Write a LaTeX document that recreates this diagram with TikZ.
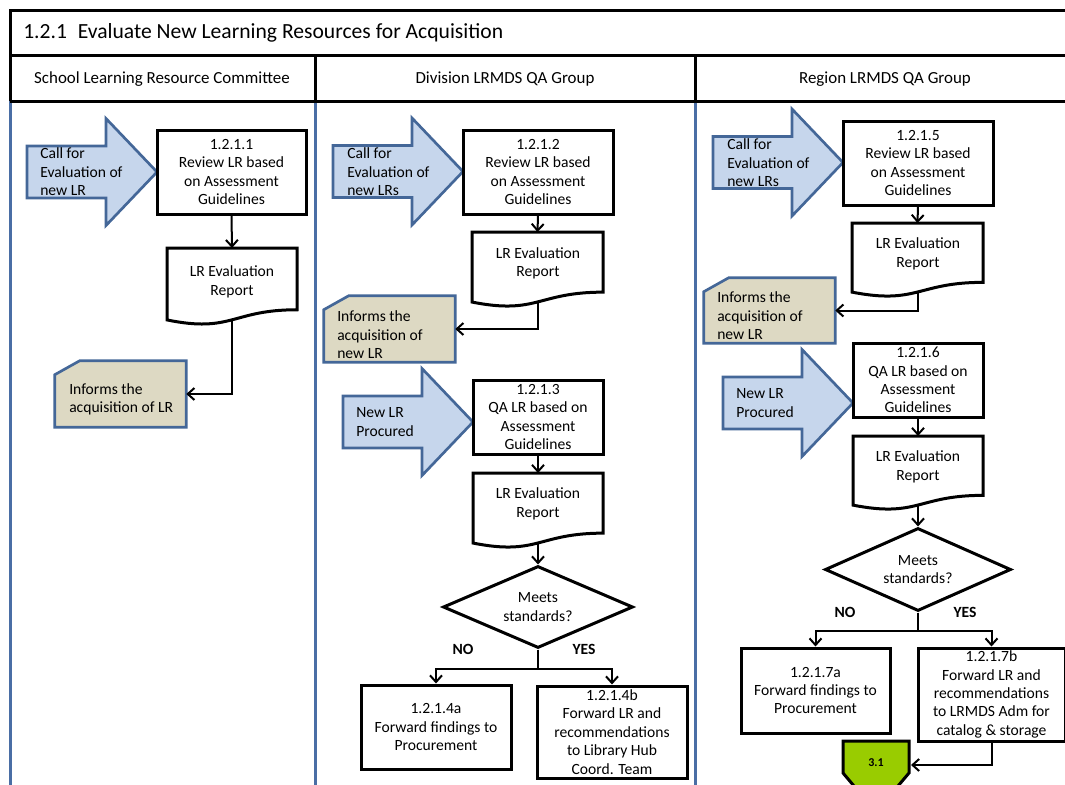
\documentclass[tikz,border=0pt]{standalone}
\usepackage{fontspec}
\setmainfont{Carlito}
\usetikzlibrary{arrows.meta,shapes.geometric}
\definecolor{lanecol}{RGB}{74,110,165}
\definecolor{arrfill}{RGB}{198,214,236}
\definecolor{arrdraw}{RGB}{68,103,152}
\definecolor{notefill}{RGB}{221,217,195}
\definecolor{opgreen}{RGB}{153,204,0}
\newcommand{\nf}{\fontsize{11.7}{13.8}\selectfont}
\newcommand{\hf}{\fontsize{12.7}{15}\selectfont}
\newcommand{\drawdoc}[5]{%
  \draw[docst] (#2,#3) -- (#2+#4,#3) -- (#2+#4,#3+0.802*#5)
    .. controls (#2+0.5*#4,#3+0.802*#5) and (#2+0.5*#4,#3+1.107*#5) .. (#2,#3+0.934*#5) -- cycle;
  \coordinate (#1t) at (#2+0.5*#4,#3);
  \coordinate (#1b) at (#2+0.5*#4,#3+0.933*#5);
}
\newcommand{\blockarr}[2]{%
  \draw[barrowst] (#1-130,#2-26) -- (#1-51,#2-26) -- (#1-51,#2-53.5) -- (#1,#2)
    -- (#1-51,#2+53.5) -- (#1-51,#2+26) -- (#1-130,#2+26) -- cycle;
}
\newcommand{\notebox}[1]{%
  \draw[notest] ([xshift=25*0.75pt]#1.north west) -- (#1.north east) -- (#1.south east)
    -- (#1.south west) -- ([yshift=-14*0.75pt]#1.north west) -- cycle;
}
\tikzset{
  framest/.style={line width=2.25pt, black, line join=miter},
  lanest/.style={line width=2.25pt, lanecol},
  boxst/.style={draw, line width=2.25pt, rectangle, align=center, inner sep=0pt, font=\nf},
  txt/.style={align=center, inner sep=0pt, font=\nf},
  htxt/.style={align=center, inner sep=0pt, font=\hf},
  ltxt/.style={align=left, inner sep=0pt, font=\nf, anchor=west},
  docst/.style={draw, line width=2.25pt, fill=white},
  barrowst/.style={draw=arrdraw, fill=arrfill, line width=2pt, line join=miter},
  notenode/.style={rectangle, inner sep=0pt, draw=none},
  notest/.style={draw=arrdraw, fill=notefill, line width=2pt},
  diast/.style={draw, diamond, line width=2.25pt, inner sep=0pt, aspect=2.3, align=center, font=\nf},
  conn/.style={line width=1.5pt, -{Straight Barb[length=5pt,width=9pt]}},
  yn/.style={font=\nf\bfseries, inner sep=0pt},
}
\begin{document}
\begin{tikzpicture}[x=0.75pt,y=-0.75pt]
\useasboundingbox (0,0) rectangle (1065,785);
\clip (0,0) rectangle (1065,785);
\fill[white] (0,0) rectangle (1065,785);
% lanes
\draw[lanest] (10,101) -- (10,800);
\draw[lanest] (315,101) -- (315,800);
\draw[lanest] (695,101) -- (695,800);
% frame
\draw[framest] (1080,10) -- (10,10) -- (10,101);
\draw[framest] (10,55) -- (1080,55);
\draw[framest] (10,101) -- (1080,101);
\draw[framest] (315,55) -- (315,101);
\draw[framest] (695,55) -- (695,101);
\node[anchor=west, inner sep=0pt, font=\fontsize{16.2}{19}\selectfont] (title) at (23,33) {1.2.1\enspace Evaluate New Learning Resources for Acquisition};
\node[htxt] (h1) at (162,79) {School Learning Resource Committee};
\node[htxt] (h2) at (505,79) {Division LRMDS QA Group};
\node[htxt] (h3) at (885,79) {Region LRMDS QA Group};

% ===== Lane 1 =====
\blockarr{157}{172}
\node[ltxt] (a1) at (40,172) {Call for\\Evaluation of\\new LR};
\node[boxst, minimum width=149*0.75pt, minimum height=84*0.75pt] (b1) at (231.5,172) {1.2.1.1\\Review LR based\\on Assessment\\Guidelines};
\drawdoc{d1}{167}{248}{130}{77}
\node[txt] (d1x) at (232,282) {LR Evaluation\\Report};
\node[notenode, minimum width=131*0.75pt, minimum height=66*0.75pt] (n1) at (120.5,394) {};
\notebox{n1}
\node[ltxt] (n1x) at (69,399.5) {Informs the\\acquisition of LR};
\draw[conn] (b1.south) -- (d1t);
\draw[conn] (d1b) |- (n1.east);

% ===== Lane 2 =====
\blockarr{463}{171.5}
\node[ltxt] (a2) at (347,172) {Call for\\Evaluation of\\new LRs};
\node[boxst, minimum width=150*0.75pt, minimum height=84*0.75pt] (b2) at (538,172) {1.2.1.2\\Review LR based\\on Assessment\\Guidelines};
\drawdoc{d2}{472}{232}{131}{75}
\node[txt] (d2x) at (538,263.5) {LR Evaluation\\Report};
\node[notenode, minimum width=131*0.75pt, minimum height=66*0.75pt] (n2) at (389.5,329) {};
\notebox{n2}
\node[ltxt] (n2x) at (337,335) {Informs the\\acquisition of\\new LR};
\draw[conn] (b2.south) -- (d2t);
\draw[conn] (d2b) |- (n2.east);

\blockarr{473}{422}
\node[ltxt] (a4) at (356,422) {New LR\\Procured};
\node[boxst, minimum width=130*0.75pt, minimum height=74*0.75pt] (b3) at (538,417) {1.2.1.3\\QA LR based on\\Assessment\\Guidelines};
\drawdoc{d3}{473}{473}{130}{75}
\node[txt] (d3x) at (538,504) {LR Evaluation\\Report};
\node[diast, minimum width=190*0.75pt, minimum height=82*0.75pt] (q1) at (538,607) {Meets\\standards?};
\node[boxst, minimum width=150*0.75pt, minimum height=84*0.75pt] (b4a) at (436,727) {1.2.1.4a\\Forward findings to\\Procurement};
\node[boxst, minimum width=150*0.75pt, minimum height=92*0.75pt] (b4b) at (612,732) {1.2.1.4b\\Forward LR and\\recommendations\\to Library Hub\\Coord. Team};
\node[yn] (no1) at (463,649) {NO};
\node[yn] (yes1) at (584,649) {YES};
\draw[conn] (b3.south) -- (d3t);
\draw[conn] (d3b) -- (q1.north);
\draw[conn] (q1.south) -- ++(0,19) -| (b4a.north);
\draw[conn] (q1.south) -- ++(0,19) -| (b4b.north);

% ===== Lane 3 =====
\blockarr{843}{162.5}
\node[ltxt] (a3) at (727,163) {Call for\\Evaluation of\\new LRs};
\node[boxst, minimum width=150*0.75pt, minimum height=84*0.75pt] (b5) at (918,163) {1.2.1.5\\Review LR based\\on Assessment\\Guidelines};
\drawdoc{d4}{852}{223}{131}{74}
\node[txt] (d4x) at (918,254) {LR Evaluation\\Report};
\node[notenode, minimum width=131*0.75pt, minimum height=65*0.75pt] (n3) at (769.5,310.5) {};
\notebox{n3}
\node[ltxt] (n3x) at (717,316) {Informs the\\acquisition of\\new LR};
\draw[conn] (b5.south) -- (d4t);
\draw[conn] (d4b) |- (n3.east);

\blockarr{853}{403}
\node[ltxt] (a5) at (736,403) {New LR\\Procured};
\node[boxst, minimum width=130*0.75pt, minimum height=74*0.75pt] (b6) at (918,380) {1.2.1.6\\QA LR based on\\Assessment\\Guidelines};
\drawdoc{d5}{853}{436}{130}{74}
\node[txt] (d5x) at (918,467) {LR Evaluation\\Report};
\node[diast, minimum width=186*0.75pt, minimum height=83*0.75pt] (q2) at (918,569.5) {Meets\\standards?};
\node[boxst, minimum width=149*0.75pt, minimum height=85*0.75pt] (b7a) at (815.5,690.5) {1.2.1.7a\\Forward findings to\\Procurement};
\node[boxst, minimum width=147*0.75pt, minimum height=93*0.75pt] (b7b) at (991.5,694.5) {1.2.1.7b\\Forward LR and\\recommendations\\to LRMDS Adm for\\catalog \& storage};
\node[yn] (no2) at (845,612) {NO};
\node[yn] (yes2) at (965,612) {YES};
\draw[conn] (b6.south) -- (d5t);
\draw[conn] (d5b) -- (q2.north);
\draw[conn] (q2.south) -- ++(0,18) -| (b7a.north);
\draw[conn] (q2.south) -- ++(0,18) -| (b7b.north);

% off-page connector
\draw[line width=2.25pt, fill=opgreen, line join=miter] (843,741) -- (909,741) -- (909,773) -- (876,812) -- (843,773) -- cycle;
\node[inner sep=0pt, font=\fontsize{9}{10}\selectfont\bfseries] (op) at (876,763) {3.1};
\coordinate (opE) at (911,765);
\draw[conn] (b7b.south) |- (opE);
\end{tikzpicture}
\end{document}
